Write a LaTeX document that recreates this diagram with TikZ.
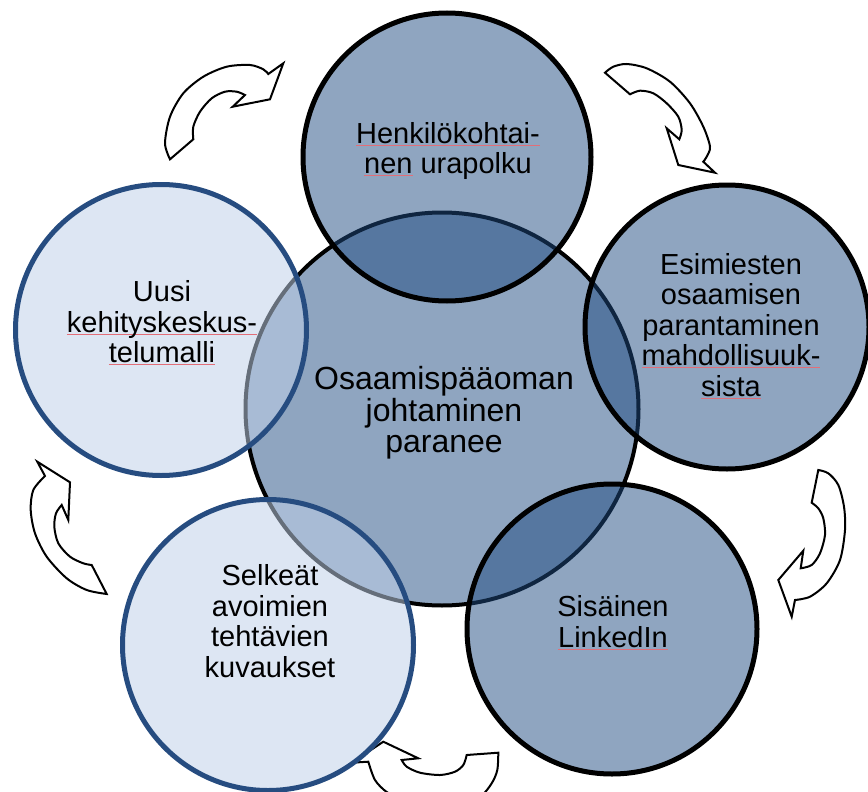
\documentclass[tikz,border=0pt]{standalone}
\usepackage{fontspec}
\setmainfont{Liberation Sans}
\definecolor{hubfill}{RGB}{143,165,192}
\definecolor{darkfill}{RGB}{31,75,129}
\definecolor{lightfill}{RGB}{191,208,232}
\definecolor{lightline}{RGB}{38,76,128}
\definecolor{spell}{RGB}{226,110,120}
% thin red proofing mark under a word
\newcommand\spellmark[1]{\setbox0=\hbox{#1}\rlap{\textcolor{spell}{\rule[-2.6pt]{\wd0}{0.9pt}}}\box0\relax}
\tikzset{
  hub/.style={circle, draw=black, line width=4pt, fill=hubfill, minimum size=393pt, inner sep=0pt},
  darkbubble/.style={circle, draw=black, line width=5pt, fill=darkfill, fill opacity=0.5, minimum size=290pt, inner sep=0pt},
  lightbubble/.style={circle, draw=lightline, line width=5pt, fill=lightfill, fill opacity=0.53, minimum size=290pt, inner sep=0pt},
  caption/.style={align=center, inner sep=0pt, font=\fontsize{29}{30.5}\selectfont},
  hubcaption/.style={align=center, inner sep=0pt, font=\fontsize{32}{31.5}\selectfont},
  flowarrow/.style={draw=black, fill=white, line width=2pt, line join=miter}
}
\begin{document}
\begin{tikzpicture}[x=1pt,y=-1pt]
\useasboundingbox (0,0) rectangle (868,792);
\clip (0,0) rectangle (868,792);

% curved cycle arrows between the outer circles
\draw[flowarrow] (193.3,139.3) -- plot[smooth] coordinates {(170,159.3) (165,143.3) (170,116.7) (183.3,93.3) (203.3,76.7) (226.7,66.7) (250,65) (263.3,69.3) (268.3,74)}
  -- (283.3,63.3) -- (270,99.3) -- (232.7,106.7)
  -- plot[smooth] coordinates {(245,95) (236.7,91.7) (225,91.7) (211.7,98.3) (200,111.7) (193.3,126.7) (193.3,139.3)} -- cycle;

\draw[flowarrow] (630,94.3) -- plot[smooth] coordinates {(605,72.7) (613.3,66.7) (626.7,64) (646.7,68.3) (670,81.7) (690,103.3) (703.3,126.7) (710,146.7) (706.7,156.7) (703.3,161.7)}
  -- (715,172.7) -- (678.3,165) -- (666.7,128.3)
  -- plot[smooth] coordinates {(679.3,139.3) (681.7,130) (678.3,116.7) (666.7,103.3) (653.3,93.3) (640,90.7) (630,94.3)} -- cycle;

\draw[flowarrow] (811.7,502.7) -- plot[smooth] coordinates {(818.3,470) (828.3,473.3) (838.3,485) (844,506.7) (845,530) (840,560) (826.7,583.3) (810,596.7) (795,600)}
  -- (791.7,616.7) -- (778.3,580) -- (803.3,550.7)
  -- plot[smooth] coordinates {(800.7,568.3) (811.7,565) (820,553.3) (825,535) (823.3,518.3) (818.3,508.3) (811.7,502.7)} -- cycle;

\draw[flowarrow] (466.7,755) -- plot[smooth] coordinates {(498.3,752.7) (497.3,770) (491.7,783.3) (480,796.7) (456.7,805) (430,806) (403.3,800) (386.7,792) (375,780) (368.3,761.7)}
  -- (351.7,762.7) -- (383.3,741.7) -- (418.3,758.3)
  -- plot[smooth] coordinates {(401.7,760) (406.7,766.7) (420,772.7) (440,775) (455,771.7) (463.3,765) (466.7,755)} -- cycle;

\draw[flowarrow] (91.7,565) -- plot[smooth] coordinates {(106.7,594) (86.7,590) (66.7,578.3) (46.7,556.7) (35,533.3) (30.7,510) (33.3,490) (45,476)}
  -- (37.3,461.7) -- (70,482.3) -- (68.3,520)
  -- plot[smooth] coordinates {(61.7,505) (56,513.3) (54.3,526.7) (58.3,543.3) (70,556.7) (83.3,563.3) (91.7,565)} -- cycle;

% central circle and the five translucent circles around it
\node[hub] (hub) at (442,409) {};
\node[darkbubble, minimum size=288pt] (career) at (447,157) {};
\node[darkbubble, minimum size=284pt] (managers) at (727,327) {};
\node[darkbubble, minimum size=290pt] (linkedin) at (612,629) {};
\node[lightbubble, minimum size=291pt] (jobs) at (268,645) {};
\node[lightbubble, minimum size=291pt] (devtalk) at (161,330) {};

% captions
\node[hubcaption] (t-hub) at (444,413) {Osaamispääoman\\johtaminen\\paranee};
\node[caption] (t-career) at (448,151) {\spellmark{Henkilökohtai-}\\\spellmark{nen} urapolku};
\node[caption] (t-managers) at (731,326) {Esimiesten\\osaamisen\\parantaminen\\\spellmark{mahdollisuuk-}\\\spellmark{sista}};
\node[caption] (t-linkedin) at (613,623) {Sisäinen\\\spellmark{LinkedIn}};
\node[caption] (t-jobs) at (270,621) {Selkeät\\avoimien\\tehtävien\\kuvaukset};
\node[caption] (t-devtalk) at (162,323) {Uusi\\\spellmark{kehityskeskus-}\\\spellmark{telumalli}};
\end{tikzpicture}
\end{document}
